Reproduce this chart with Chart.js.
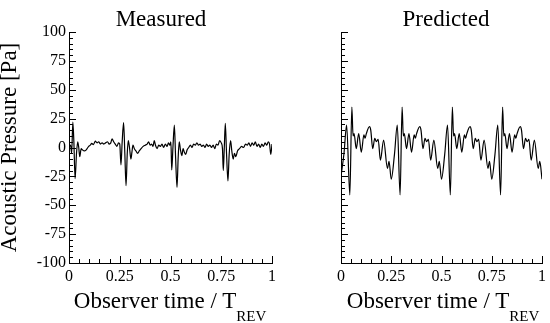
<!DOCTYPE html>
<html><head><meta charset="utf-8">
<script src="https://cdn.jsdelivr.net/npm/chart.js@4.4.1/dist/chart.umd.min.js"></script>
<style>
body{margin:0;background:#fff;width:550px;height:323px;overflow:hidden;position:relative;font-family:"Liberation Serif","Times New Roman",serif;color:#000}
canvas{position:absolute;top:0}
#c1{left:0}#c2{left:280px}
.ttl{position:absolute;top:7px;font-size:23px;line-height:23px;white-space:nowrap;transform:translateX(-50%)}
.xt{position:absolute;top:289px;font-size:23px;line-height:23px;white-space:nowrap;transform:translateX(-50%)}
.xt sub{font-size:15px;vertical-align:baseline;position:relative;top:13px}
</style></head><body>
<canvas id="c1" width="280" height="323"></canvas>
<canvas id="c2" width="270" height="323"></canvas>
<div class="ttl" style="left:161px">Measured</div>
<div class="ttl" style="left:446px">Predicted</div>
<div class="xt" style="left:170px">Observer time / T<sub>REV</sub></div>
<div class="xt" style="left:443px">Observer time / T<sub>REV</sub></div>
<script>
// tick labels
const xLabels=[0,0.25,0.5,0.75,1];
const yLabels=[-100,-75,-50,-25,0,25,50,75,100];

// measured signal
const measuredT=[0,0.008,0.013,0.019,0.024,0.030,0.037,0.043,0.048,0.053,
 0.060,0.066,0.075,0.085,0.097,0.105,0.112,0.120,0.130,0.138,
 0.146,0.155,0.163,0.172,0.180,0.190,0.198,0.206,0.212,0.220,
 0.228,0.236,0.244,0.250,0.256,0.262,0.269,0.275,0.281,0.287,
 0.292,0.298,0.305,0.310,0.315,0.322,0.330,0.338,0.346,0.355,
 0.365,0.375,0.385,0.392,0.400,0.407,0.414,0.420,0.426,0.434,
 0.442,0.450,0.458,0.466,0.475,0.483,0.490,0.497,0.502,0.506,
 0.512,0.519,0.525,0.532,0.538,0.543,0.549,0.556,0.562,0.568,
 0.575,0.582,0.590,0.598,0.606,0.614,0.622,0.630,0.638,0.646,
 0.654,0.662,0.670,0.678,0.686,0.694,0.702,0.710,0.718,0.726,
 0.734,0.742,0.750,0.756,0.760,0.765,0.770,0.776,0.783,0.789,
 0.796,0.802,0.809,0.815,0.822,0.830,0.840,0.850,0.860,0.870,
 0.878,0.886,0.894,0.902,0.910,0.918,0.926,0.934,0.942,0.950,
 0.958,0.966,0.974,0.982,0.988,0.994,1.0];
const measuredP=[0,2,-5,22,5,-27,-5,5,0,-8,
 -1,-2,-3,-2,1,2,3.5,2.5,5.5,4,
 5,3,4,3,4,5,3,4,7.5,5,
 3,1,4,3,-15,5,21.5,-5,-33,-5,
 6,0,-10,-4,2,-1,-3,-5,-3,-1,
 1,2,3,5,2,3,1,6,2,-1,
 2,1,3,0,3,1,4,2,5,-19.5,
 0,19.5,-8,-34.5,-8,5,-2,-7,-1,-4,
 -6,-2,0,2,0,3,2,4,2,3,
 1,2,0,3,1,2,0,2,-1,3,
 2,6,4,-1,-20,0,21,-5,-29,-6,
 6,-3,-10,-5,-8,-3,-1,1,0,3,
 2,4,1,4,2,5,1,3,0,3,
 1,4,2,5,3,-6,3];

// predicted signal
const predictedT=[0,0.015,0.028,0.044,0.054,0.060,0.065,0.076,0.088,0.101,
 0.114,0.120,0.126,0.142,0.148,0.158,0.168,0.176,0.185,0.196,
 0.212,0.231,0.239,0.250,0.266,0.280,0.294,0.304,0.310,0.315,
 0.326,0.338,0.351,0.364,0.370,0.376,0.392,0.398,0.408,0.418,
 0.426,0.435,0.446,0.462,0.481,0.489,0.500,0.516,0.530,0.544,
 0.554,0.560,0.565,0.576,0.588,0.601,0.614,0.620,0.626,0.642,
 0.648,0.658,0.668,0.676,0.685,0.696,0.712,0.731,0.739,0.750,
 0.766,0.780,0.794,0.804,0.810,0.815,0.826,0.838,0.851,0.864,
 0.870,0.876,0.892,0.898,0.908,0.918,0.926,0.935,0.946,0.962,
 0.981,0.989,1.0];
const predictedP=[-25,-5,19.5,-41,35,10,12,-1,12,-4,
 11,8,12,18,15,-1,8,5,7,-11,
 6.5,-18,-12,-27.5,-6,19.5,-41,35,10,12,
 -1,12,-4,11,8,12,18,15,-1,8,
 5,7,-11,6.5,-18,-12,-27.5,-6,19.5,-41,
 35,10,12,-1,12,-4,11,8,12,18,
 15,-1,8,5,7,-11,6.5,-18,-12,-27.5,
 -6,19.5,-41,35,10,12,-1,12,-4,11,
 8,12,18,15,-1,8,5,7,-11,6.5,
 -18,-12,-27.5];

const F="'Liberation Serif', 'Times New Roman', serif";
Chart.defaults.font.family=F;
Chart.defaults.color='#000';
const near=(a,b)=>Math.abs(a-b)<1e-6;
const xMajor=v=>xLabels.find(l=>near(l,v));
const yMajor=v=>yLabels.find(l=>near(l,v));

// ticks pointing into the plot, long at labelled values
const inTicks={id:'inTicks',afterDraw(ch){
 const {ctx,chartArea:a,scales:{x,y}}=ch;
 ctx.save();ctx.strokeStyle='#000';ctx.lineWidth=1;ctx.beginPath();
 y.ticks.forEach(t=>{const p=Math.round(y.getPixelForValue(t.value))+.5;const L=yMajor(t.value)!==undefined?7:4;ctx.moveTo(a.left,p);ctx.lineTo(a.left+L,p)});
 x.ticks.forEach(t=>{const p=Math.round(x.getPixelForValue(t.value))+.5;const L=xMajor(t.value)!==undefined?7:4;ctx.moveTo(p,a.bottom);ctx.lineTo(p,a.bottom-L)});
 ctx.stroke();ctx.restore()}};

function mk(id,T,P,showY,padR,yw){
 return new Chart(document.getElementById(id),{type:'line',
  data:{datasets:[{data:T.map((t,i)=>({x:t,y:P[i]})),borderColor:'#000',borderWidth:1.2,pointRadius:0,cubicInterpolationMode:'monotone',fill:false}]},
  options:{responsive:false,animation:false,devicePixelRatio:1,
   layout:{padding:{top:32,right:padR,left:0,bottom:0}},
   plugins:{legend:{display:false},tooltip:{enabled:false},title:{display:false}},
   scales:{
    x:{type:'linear',min:0,max:1,grid:{display:false,drawTicks:false},border:{color:'#000',width:1},
     ticks:{stepSize:0.05,autoSkip:false,maxRotation:0,padding:4,color:'#000',font:{family:F,size:16},
      callback:v=>{const m=xMajor(v);return m!==undefined?String(m):''}},
     afterFit:s=>{s.height=60}},
    y:{min:-100,max:100,grid:{display:false,drawTicks:false},border:{color:'#000',width:1},
     title:{display:showY,text:'Acoustic Pressure [Pa]',color:'#000',font:{family:F,size:23,lineHeight:1},padding:{top:-2,bottom:0}},
     ticks:{stepSize:5,autoSkip:false,padding:3,color:'#000',font:{family:F,size:16},
      callback:v=>{const m=yMajor(v);return showY&&m!==undefined?String(m):''}},
     afterFit:s=>{s.width=yw}}}},
  plugins:[inTicks]});
}
mk('c1',measuredT,measuredP,true,8,69);
mk('c2',predictedT,predictedP,false,6,61);
</script>
</body></html>
